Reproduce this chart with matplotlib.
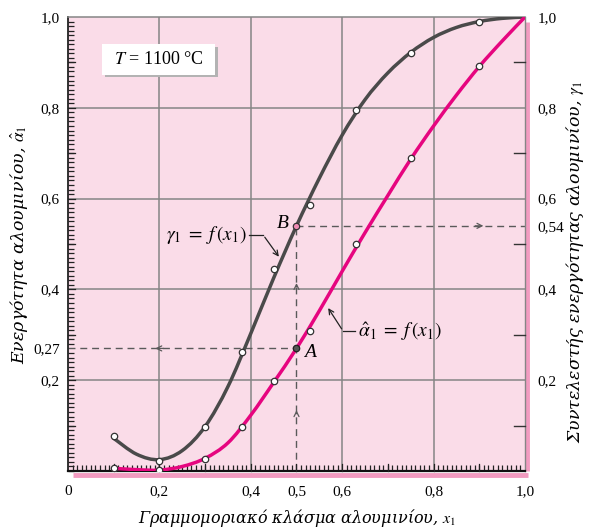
import numpy as np
import matplotlib
matplotlib.use("Agg")
import matplotlib.pyplot as plt
from matplotlib.path import Path
from matplotlib.patches import PathPatch, Rectangle
from matplotlib.ticker import MultipleLocator, FixedLocator

plt.rcParams['font.family'] = ['Liberation Serif', 'DejaVu Serif']
plt.rcParams['mathtext.fontset'] = 'stix'

# ---- data ----
gamma_curve_x = [0.1, 0.15, 0.2, 0.25, 0.3, 0.35, 0.4, 0.45, 0.5, 0.55, 0.6, 0.65, 0.7, 0.75, 0.8, 0.85, 0.9, 0.95, 1.0]
gamma_curve_y = [0.072, 0.037, 0.025, 0.045, 0.098, 0.186, 0.303, 0.425, 0.54, 0.645, 0.74, 0.818, 0.877, 0.922, 0.955, 0.977, 0.99, 0.997, 1.0]
alpha_curve_x = [0.1, 0.15, 0.2, 0.25, 0.3, 0.35, 0.4, 0.45, 0.5, 0.55, 0.6, 0.65, 0.7, 0.75, 0.8, 0.85, 0.9, 0.95, 1.0]
alpha_curve_y = [0.006, 0.003, 0.002, 0.01, 0.028, 0.062, 0.123, 0.195, 0.27, 0.353, 0.44, 0.525, 0.607, 0.687, 0.76, 0.828, 0.891, 0.947, 1.0]

gamma_pts_x = [0.1, 0.2, 0.3, 0.38, 0.45, 0.53, 0.63, 0.75, 0.9]
gamma_pts_y = [0.078, 0.022, 0.098, 0.263, 0.444, 0.585, 0.795, 0.921, 0.989]
alpha_pts_x = [0.1, 0.2, 0.3, 0.38, 0.45, 0.53, 0.63, 0.75, 0.9]
alpha_pts_y = [0.006, 0.002, 0.027, 0.098, 0.198, 0.308, 0.5, 0.69, 0.891]

x1_point = 0.5
alpha_A = 0.27
gamma_B = 0.54

x_ticks = [0, 0.2, 0.4, 0.5, 0.6, 0.8, 1.0]
x_ticklabels = ['0', '0,2', '0,4', '0,5', '0,6', '0,8', '1,0']
yl_ticks = [0.2, 0.27, 0.4, 0.6, 0.8, 1.0]
yl_ticklabels = ['0,2', '0,27', '0,4', '0,6', '0,8', '1,0']
yr_ticks = [0.2, 0.4, 0.54, 0.6, 0.8, 1.0]
yr_ticklabels = ['0,2', '0,4', '0,54', '0,6', '0,8', '1,0']

PINK_BG = '#fadce8'
MAGENTA = '#e6057f'
DARK = '#4a4a4a'
GRID = '#858585'
STRIP = '#f29bc0'


def smooth_path(xs, ys):
    pts = np.column_stack([xs, ys]).astype(float)
    n = len(pts)
    verts = [pts[0]]
    codes = [Path.MOVETO]
    for i in range(n - 1):
        p0 = pts[max(i - 1, 0)]
        p1 = pts[i]
        p2 = pts[i + 1]
        p3 = pts[min(i + 2, n - 1)]
        c1 = p1 + (p2 - p0) / 6.0
        c2 = p2 - (p3 - p1) / 6.0
        verts += [c1, c2, p2]
        codes += [Path.CURVE4] * 3
    return Path(verts, codes)


fig = plt.figure(figsize=(5.91, 5.31), dpi=100)
ax = fig.add_axes([68 / 591, 60 / 531, 457 / 591, 454 / 531])
ax.set_xlim(0, 1.0)
ax.set_ylim(0, 1.0)
ax.set_facecolor(PINK_BG)

# grid
for g in [0.2, 0.4, 0.6, 0.8]:
    ax.axvline(g, color=GRID, lw=1.1, zorder=1)
    ax.axhline(g, color=GRID, lw=1.1, zorder=1)

# spines
ax.spines['top'].set_color(GRID)
ax.spines['top'].set_linewidth(1.1)
ax.spines['right'].set_color(GRID)
ax.spines['right'].set_linewidth(1.0)
ax.spines['left'].set_color('#222222')
ax.spines['left'].set_linewidth(1.3)
ax.spines['bottom'].set_color('#111111')
ax.spines['bottom'].set_linewidth(1.6)

# pink strips (right and bottom)
ax.plot([1.0045, 1.0045], [0.0, 0.99], color=STRIP, lw=3.5, clip_on=False, solid_capstyle='butt', zorder=0)
ax.plot([0.01, 1.0065], [-0.009, -0.009], color=STRIP, lw=3.5, clip_on=False, solid_capstyle='butt', zorder=0)

# ticks
ax.xaxis.set_major_locator(FixedLocator(x_ticks))
ax.set_xticklabels(x_ticklabels)
ax.xaxis.set_minor_locator(MultipleLocator(0.01))
ax.yaxis.set_major_locator(FixedLocator(yl_ticks))
ax.set_yticklabels(yl_ticklabels)
ax.yaxis.set_minor_locator(MultipleLocator(0.01))
ax.tick_params(axis='x', which='major', direction='in', length=0, pad=10, labelsize=11)
ax.tick_params(axis='y', which='major', direction='in', length=0, pad=6, labelsize=11)
ax.tick_params(which='minor', direction='in', length=4.5, width=0.9, color='#222222')
# longer ticks at every 0.1 on left & bottom
for t in np.arange(0.1, 1.0, 0.1):
    ax.plot([0, 0.016], [t, t], color='#222222', lw=0.9, clip_on=False, zorder=3)
    ax.plot([t, t], [0, 0.016], color='#222222', lw=0.9, clip_on=False, zorder=3)

# right axis
axr = ax.twinx()
axr.set_ylim(0, 1.0)
axr.yaxis.set_major_locator(FixedLocator(yr_ticks))
axr.set_yticklabels(yr_ticklabels)
axr.tick_params(axis='y', which='major', direction='in', length=0, pad=9, labelsize=11)
for s in axr.spines.values():
    s.set_visible(False)
for t in [0.1, 0.3, 0.5, 0.7, 0.9]:
    ax.plot([0.975, 1.0], [t, t], color='#333333', lw=1.0, clip_on=False, zorder=3)

# dashed guide lines
dash = dict(color='#5a5a5a', lw=1.0, dashes=(5, 3.5), zorder=2)
ax.plot([x1_point, x1_point], [0, gamma_B], **dash)
ax.plot([0, x1_point], [alpha_A, alpha_A], **dash)
ax.plot([x1_point, 1.0], [gamma_B, gamma_B], **dash)

arrow_kw = dict(arrowstyle='->', color='#5a5a5a', lw=0.9, mutation_scale=9)
for (xa, ya, dx, dy) in [(x1_point, 0.13, 0, 0.02), (x1_point, 0.41, 0, 0.02),
                         (0.2, alpha_A, -0.03, 0), (0.9, gamma_B, 0.03, 0)]:
    ax.annotate('', xy=(xa + dx / 2, ya + dy / 2), xytext=(xa - dx / 2, ya - dy / 2),
                arrowprops=arrow_kw, zorder=3)

# curves
ax.add_patch(PathPatch(smooth_path(gamma_curve_x, gamma_curve_y), fill=False,
                       edgecolor=DARK, lw=2.5, zorder=4, capstyle='round'))
ax.add_patch(PathPatch(smooth_path(alpha_curve_x, alpha_curve_y), fill=False,
                       edgecolor=MAGENTA, lw=2.5, zorder=4, capstyle='round'))

# markers
ax.plot(gamma_pts_x, gamma_pts_y, 'o', ms=4.6, mfc='white', mec='#333333', mew=0.9, zorder=5)
ax.plot(alpha_pts_x, alpha_pts_y, 'o', ms=4.6, mfc='white', mec='#333333', mew=0.9, zorder=5)
ax.plot([x1_point], [gamma_B], 'o', ms=4.6, mfc='#f08cb4', mec='#333333', mew=0.9, zorder=6)
ax.plot([x1_point], [alpha_A], 'o', ms=4.6, mfc='#555555', mec='#222222', mew=0.9, zorder=6)

# point labels
ax.text(0.483, 0.546, 'B', fontsize=14, style='italic', ha='right', va='center', zorder=6)
ax.text(0.516, 0.262, 'A', fontsize=14, style='italic', ha='left', va='center', zorder=6)

# curve labels with leaders
ax.text(0.392, 0.52, r'$\gamma_1\;=\;f\,(x_1)$', fontsize=14, ha='right', va='center', zorder=6)
ax.plot([0.396, 0.427], [0.52, 0.52], color='#222222', lw=0.9, zorder=6)
ax.annotate('', xy=(0.465, 0.467), xytext=(0.427, 0.52),
            arrowprops=dict(arrowstyle='->', color='#222222', lw=0.9, mutation_scale=9), zorder=6)
ax.text(0.634, 0.308, r'$\hat{\alpha}_1\;=\;f\,(x_1)$', fontsize=14, ha='left', va='center', zorder=6)
ax.plot([0.602, 0.628], [0.308, 0.308], color='#222222', lw=0.9, zorder=6)
ax.annotate('', xy=(0.566, 0.364), xytext=(0.602, 0.308),
            arrowprops=dict(arrowstyle='->', color='#222222', lw=0.9, mutation_scale=9), zorder=6)

# temperature box with shadow
ax.add_patch(Rectangle((0.082, 0.867), 0.247, 0.067, facecolor='#b3b3b3', edgecolor='none', zorder=6))
ax.add_patch(Rectangle((0.075, 0.873), 0.247, 0.067, facecolor='white', edgecolor='none', zorder=7))
ax.text(0.198, 0.906, r'$T$ = 1100 °C', fontsize=13, ha='center', va='center', zorder=8)

# axis labels
lab_font = ['DejaVu Serif']
fig.text(297 / 591, 1 - 518 / 531, r'Γραμμομοριακό κλάσμα αλουμινίου, $x_1$', fontsize=11.5,
         family=lab_font, style='italic', ha='center', va='center')
fig.text(19 / 591, 1 - 245 / 531, r'Ενεργότητα αλουμινίου, $\hat{\alpha}_1$', fontsize=12.5,
         family=lab_font, style='italic', ha='center', va='center', rotation=90)
fig.text(575 / 591, 1 - 262 / 531, r'Συντελεστής ενεργότητας αλουμινίου, $\gamma_1$', fontsize=12.5,
         family=lab_font, style='italic', ha='center', va='center', rotation=90)

fig.savefig('out.png', dpi=100, facecolor='white')
